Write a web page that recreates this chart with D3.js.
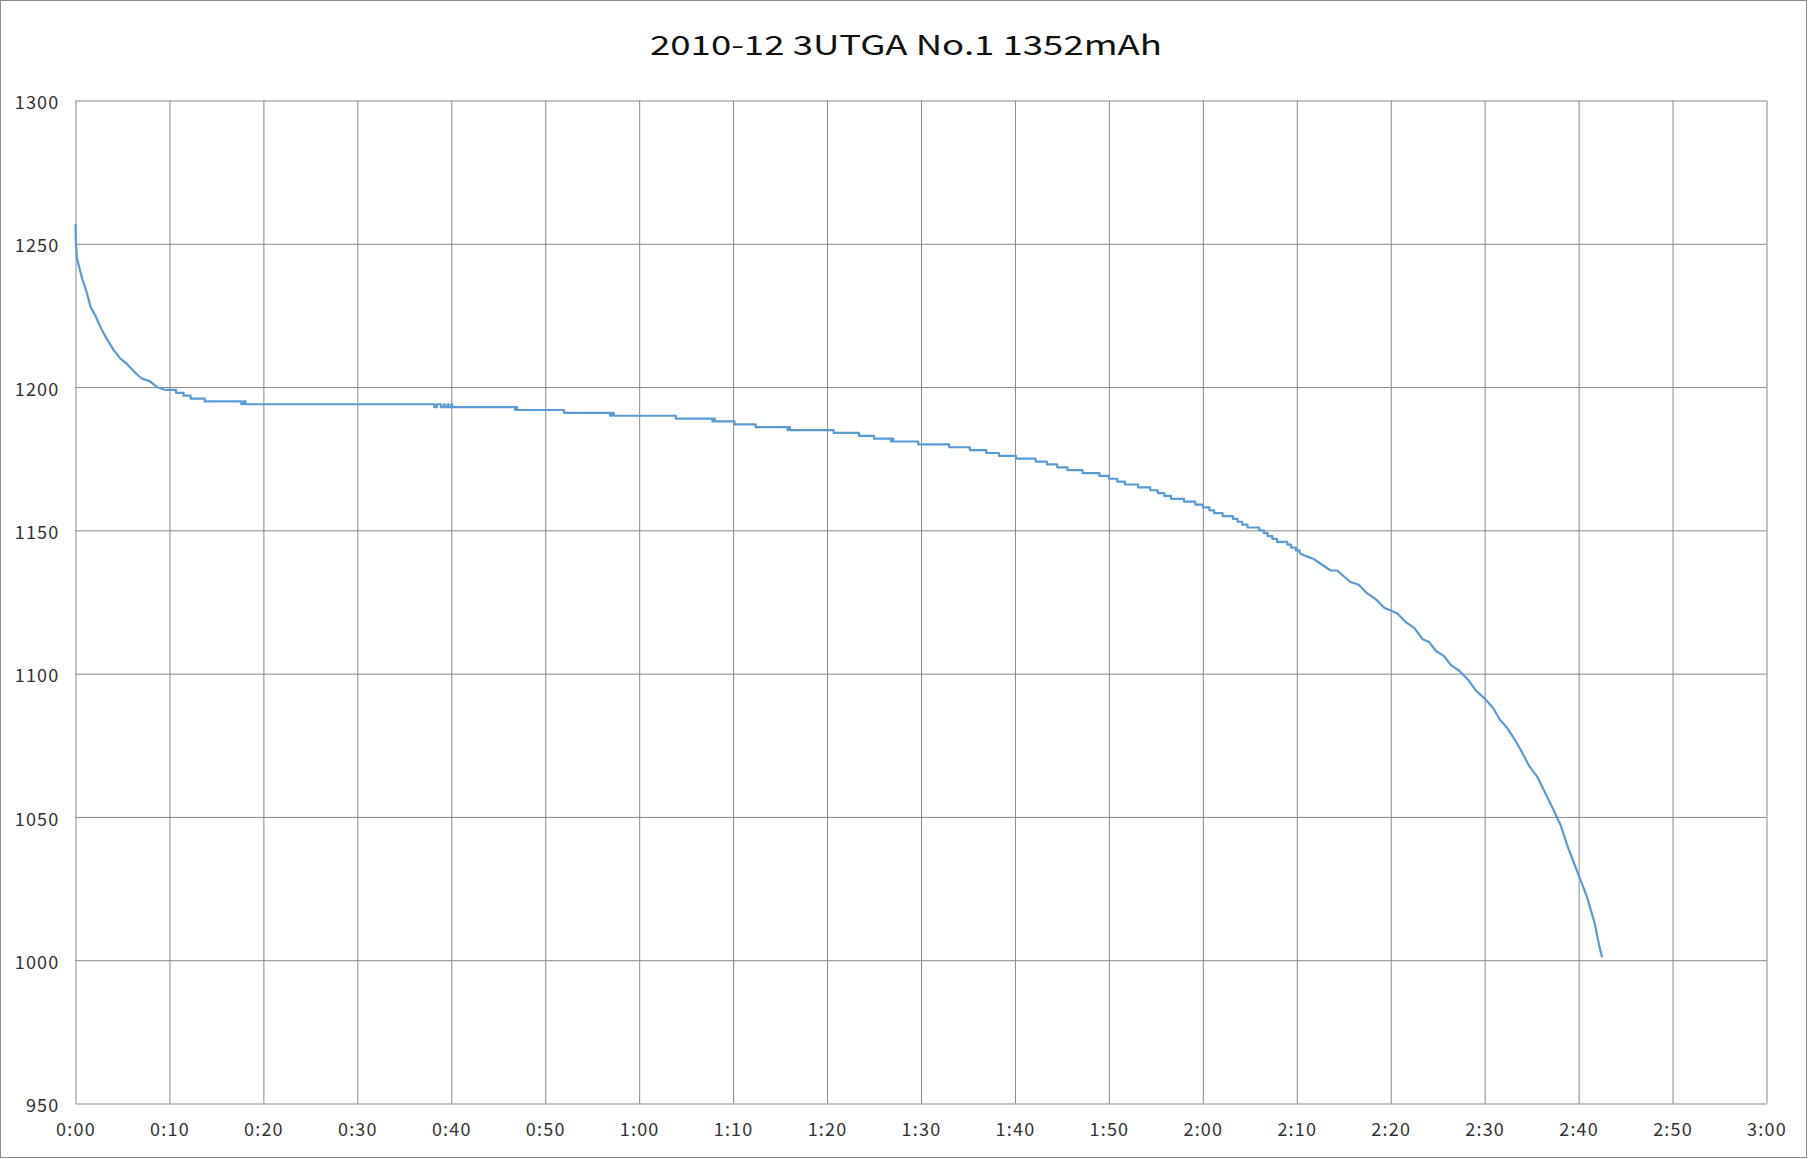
<!DOCTYPE html>
<html>
<head>
<meta charset="utf-8">
<title>2010-12 3UTGA No.1 1352mAh</title>
<script src="https://cdn.jsdelivr.net/npm/d3@7/dist/d3.min.js"></script>
<style>
  body { margin: 0; background: #fff; }
  svg text { font-family: "Noto Sans CJK SC", "Noto Sans", sans-serif; fill: #333; }
</style>
</head>
<body>
<svg id="chart" width="1813" height="1159"></svg>
<script>
"use strict";

var chartTitle = "2010-12 3UTGA No.1 1352mAh";

// axis ticks: minutes on x, mV on y
var xTicks = d3.range(0, 181, 10);
var yTicks = [950, 1000, 1050, 1100, 1150, 1200, 1250, 1300];

// first minutes after start
var headMin = [0, 0.05, 0.15, 0.3, 0.7, 1.2, 1.6, 2.1, 2.8, 3.3, 4.05, 4.75, 5.5, 6.35, 7.05, 7.95, 8.65, 9.55];
var headMv  = [1257, 1250, 1245, 1243, 1238, 1233, 1228, 1225, 1220, 1217, 1213, 1210, 1208, 1205, 1203, 1202, 1200, 1199];

// flat part, 1 mV steps: minute where each level starts
var stepMin = [9.55, 10.7, 11.5, 12.25, 13.75, 17.65, 17.9, 18.1, 38.2, 38.45, 38.9, 39.2, 39.3, 39.6, 39.7, 40.0, 40.1,
  46.8, 46.95, 47.0, 52.0, 56.9, 57.1, 57.3, 63.9, 67.8, 67.95, 68.05, 70.15, 72.4, 75.8, 75.95, 76.05, 80.7, 83.4, 85.0,
  86.8, 86.95, 87.05, 89.7, 93.0, 95.2, 96.95, 98.3, 100.1, 102.2, 103.4, 104.5, 105.6, 107.2, 109.0, 110.0, 110.9,
  111.7, 113.1, 114.4, 115.2, 115.9, 116.6, 118.0, 119.2, 120.0, 120.7, 121.2, 122.1, 123.2, 123.7, 124.2, 124.75,
  126.0, 126.5, 126.9, 127.4, 127.9, 129.0, 129.4, 129.9, 130.3];
var stepMv  = [1199, 1198, 1197, 1196, 1195, 1194, 1195, 1194, 1193, 1194, 1193, 1194, 1193, 1194, 1193, 1194, 1193,
  1192, 1193, 1192, 1191, 1190, 1191, 1190, 1189, 1188, 1189, 1188, 1187, 1186, 1185, 1186, 1185, 1184, 1183, 1182,
  1181, 1182, 1181, 1180, 1179, 1178, 1177, 1176, 1175, 1174, 1173, 1172, 1171, 1170, 1169, 1168, 1167,
  1166, 1165, 1164, 1163, 1162, 1161, 1160, 1159, 1158, 1157, 1156, 1155, 1154, 1153, 1152, 1151,
  1150, 1149, 1148, 1147, 1146, 1145, 1144, 1143, 1142];

// final drop
var tailMin = [130.3, 131.0, 131.8, 132.7, 133.6, 134.3, 135.0, 135.7, 136.6, 137.5, 138.4, 139.3, 140.0, 140.7,
  141.6, 142.5, 143.4, 144.1, 144.8, 145.7, 146.4, 147.3, 148.2, 149.1, 150.1, 150.9, 151.6, 152.4, 153.2, 153.9,
  154.7, 155.6, 156.5, 157.4, 158.1, 158.8, 159.5, 160.2, 160.9, 161.7, 162.2, 162.5];
var tailMv  = [1142, 1141, 1140, 1138, 1136, 1136, 1134, 1132, 1131, 1128, 1126, 1123, 1122, 1121,
  1118, 1116, 1112, 1111, 1108, 1106, 1103, 1101, 1098, 1094, 1091, 1088, 1084, 1081, 1077, 1073,
  1068, 1064, 1058, 1052, 1047, 1040, 1034, 1028, 1022, 1013, 1005, 1001];

var plotLeft = 75.5, plotRight = 1766.5, plotTop = 100.5, plotBottom = 1103.5;
var gridColor = "#898989";

var svg = d3.select("#chart");

// outer chart border
svg.append("rect")
  .attr("x", 0.5).attr("y", 0.5)
  .attr("width", 1806).attr("height", 1157)
  .attr("fill", "#fff").attr("stroke", "#8c8c8c");

// the original font is wider than anything installed, so stretch to its width
svg.append("text")
  .attr("x", 650).attr("y", 55)
  .attr("font-size", 27)
  .attr("textLength", 512)
  .attr("lengthAdjust", "spacingAndGlyphs")
  .style("fill", "#111")
  .text(chartTitle);

var x = d3.scaleLinear().domain([0, 180]).range([plotLeft, plotRight]);
var y = d3.scaleLinear().domain([950, 1300]).range([plotBottom, plotTop]);

function fmtMin(m) {
  return Math.floor(m / 60) + ":" + d3.format("02")(m % 60);
}

var xAxis = svg.append("g")
  .attr("transform", "translate(0," + plotBottom + ")")
  .call(d3.axisBottom(x).tickValues(xTicks).tickFormat(fmtMin)
    .tickSize(-(plotBottom - plotTop)).tickSizeOuter(0).tickPadding(20));

var yAxis = svg.append("g")
  .attr("transform", "translate(" + plotLeft + ",0)")
  .call(d3.axisLeft(y).tickValues(yTicks).tickFormat(d3.format("d"))
    .tickSize(-(plotRight - plotLeft)).tickSizeOuter(0).tickPadding(16));

[xAxis, yAxis].forEach(function (ax) {
  ax.select(".domain").remove();
  ax.selectAll(".tick line").attr("stroke", gridColor).attr("stroke-width", 1);
  ax.selectAll(".tick text").attr("font-size", 18).style("letter-spacing", "1.2px");
});
yAxis.selectAll(".tick text").attr("dy", "0.45em");

function pairs(ts, vs) {
  return ts.map(function (t, i) { return [t, vs[i]]; });
}

var lineLin = d3.line().x(function (d) { return x(d[0]); }).y(function (d) { return y(d[1]); });
var lineStep = d3.line().curve(d3.curveStepAfter)
  .x(function (d) { return x(d[0]); }).y(function (d) { return y(d[1]); });

var plot = svg.append("g")
  .attr("fill", "none")
  .attr("stroke", "#5b9bd5")
  .attr("stroke-width", 2.2)
  .attr("stroke-linejoin", "round");

plot.append("path").attr("d", lineLin(pairs(headMin, headMv)));
plot.append("path").attr("d", lineStep(pairs(stepMin, stepMv)));
plot.append("path").attr("d", lineLin(pairs(tailMin, tailMv)));
</script>
</body>
</html>
